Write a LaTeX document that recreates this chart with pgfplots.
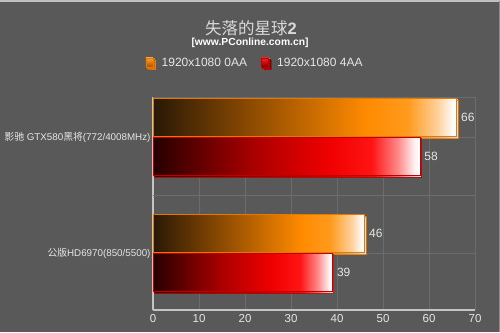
\documentclass[border=0pt]{standalone}
\usepackage{pgfplots}
\pgfplotsset{compat=1.18}
\usepackage{fontspec}
\setmainfont{Liberation Sans}
\newfontfamily\cjk{Noto Sans CJK SC}
\usetikzlibrary{shadows}

\definecolor{bg}{HTML}{595959}
\definecolor{gridc}{HTML}{6C6C6C}
\definecolor{axisc}{HTML}{C4C4C4}
\definecolor{txt}{HTML}{E6E6E6}

% bar fills: dark on the left, full colour, then white at the value end
\pgfdeclarehorizontalshading{orangebar}{100bp}{
  color(0bp)=({rgb,255:red,40;green,24;blue,6}); color(25bp)=({rgb,255:red,40;green,24;blue,6});
  color(46bp)=({rgb,255:red,170;green,90;blue,0});
  color(60bp)=({rgb,255:red,255;green,138;blue,0});
  color(67bp)=({rgb,255:red,255;green,155;blue,30});
  color(72bp)=({rgb,255:red,255;green,210;blue,160});
  color(74bp)=({rgb,255:red,255;green,245;blue,235});
  color(75bp)=(white); color(100bp)=(white)}
\pgfdeclarehorizontalshading{redbar}{100bp}{
  color(0bp)=({rgb,255:red,38;green,0;blue,0}); color(25bp)=({rgb,255:red,38;green,0;blue,0});
  color(44bp)=({rgb,255:red,170;green,0;blue,0});
  color(58bp)=({rgb,255:red,240;green,0;blue,0});
  color(66bp)=({rgb,255:red,255;green,20;blue,20});
  color(71bp)=({rgb,255:red,255;green,140;blue,140});
  color(74bp)=({rgb,255:red,255;green,242;blue,242});
  color(75bp)=(white); color(100bp)=(white)}
\pgfdeclareverticalshading{orangebox}{100bp}{
  color(0bp)=({rgb,255:red,150;green,70;blue,0}); color(25bp)=({rgb,255:red,170;green,80;blue,0});
  color(75bp)=({rgb,255:red,255;green,160;blue,40}); color(100bp)=({rgb,255:red,255;green,160;blue,40})}
\pgfdeclareverticalshading{redbox}{100bp}{
  color(0bp)=({rgb,255:red,110;green,0;blue,0}); color(25bp)=({rgb,255:red,130;green,0;blue,0});
  color(75bp)=({rgb,255:red,255;green,30;blue,30}); color(100bp)=({rgb,255:red,255;green,30;blue,30})}

% frame rates, 0 = reference HD6970, 1 = GTX580
\pgfplotstableread{
y  fps
0  46
1  66
}\noaa
\pgfplotstableread{
y  fps
0  39
1  58
}\fouraa

\pgfplotsset{
  orangestyle/.style={bar shift=0.168, shading=orangebar,
    draw={rgb,255:red,230;green,120;blue,0}, line width=0.6bp,
    drop shadow={shadow xshift=1.2bp, shadow yshift=-1.6bp, fill=black, opacity=0.85},
    legend image code/.code={
      \fill[black!85] (1.5bp,-5bp) rectangle (8.5bp,4bp);
      \shade[shading=orangebox] (0bp,-4bp) rectangle (7bp,5bp);}},
  redstyle/.style={bar shift=-0.165, shading=redbar,
    draw={rgb,255:red,190;green,0;blue,0}, line width=0.6bp,
    drop shadow={shadow xshift=1.2bp, shadow yshift=-1.6bp, fill=black, opacity=0.85},
    legend image code/.code={
      \fill[black!85] (1.5bp,-5bp) rectangle (8.5bp,4bp);
      \shade[shading=redbox] (0bp,-4bp) rectangle (7bp,5bp);}},
}

\begin{document}
\begin{tikzpicture}[x=1bp,y=1bp]
  \fill[bg] (0,0) rectangle (500,332);
  \path[use as bounding box] (0,0) rectangle (500,332);
  \draw[color=black!25,line width=1.2bp] (0,331) -- (500,331);
  \draw[color=black!45,line width=1bp] (499.5,0) -- (499.5,331);

  \node[text=black!15,font=\fontsize{16.5bp}{18bp}\selectfont,inner sep=0] at (251,303.5)
    {{\cjk 失落的星球}\textbf{2}};
  \node[text=white,font=\fontsize{10.3bp}{12bp}\selectfont\bfseries,inner sep=0] at (250,289.5)
    {[www.PConline.com.cn]};

  \begin{axis}[
    at={(153bp,22bp)}, anchor=south west,
    scale only axis, width=322bp, height=213bp,
    xbar, xmin=0, xmax=70, ymin=-0.49, ymax=1.345,
    xtick={0,10,...,70},
    ytick={0,1},
    yticklabels={%
      {\cjk 公版}HD6970(850/5500),%
      {\cjk 影驰} GTX580{\cjk 黑将}(772/4008MHz)},
    extra y ticks={0.5,1.345}, extra y tick labels={},
    extra y tick style={grid=major},
    xmajorgrids, ymajorgrids,
    grid style={color=gridc, line width=0.9bp},
    major tick length=0pt,
    axis lines*=left,
    axis line style={color=axisc, line width=1.4bp},
    /pgf/number format/assume math mode=true,
    tick label style={text=txt, font=\fontsize{11.5bp}{13bp}\selectfont},
    yticklabel style={font=\fontsize{9.8bp}{12bp}\selectfont, xshift=1bp},
    xticklabel style={yshift=-1bp},
    bar width=0.33,
    nodes near coords,
    nodes near coords style={text=txt, font=\fontsize{12bp}{14bp}\selectfont, anchor=west, xshift=1bp},
    legend columns=2,
    legend style={at={(0.317,1.16)}, anchor=center, draw=none, fill=none,
      text=txt, font=\fontsize{12bp}{14bp}\selectfont,
      /tikz/every odd column/.append style={column sep=5bp},
      /tikz/every even column/.append style={column sep=12bp}},
    clip=false,
  ]
    % one bar per plot, so each bar gets its own fill
    \addplot[orangestyle] table[x=fps, y=y, skip coords between index={0}{1}] {\noaa};
    \addlegendentry{1920x1080 0AA}
    \addplot[redstyle] table[x=fps, y=y, skip coords between index={0}{1}] {\fouraa};
    \addlegendentry{1920x1080 4AA}
    \addplot[orangestyle, forget plot] table[x=fps, y=y, skip coords between index={1}{2}] {\noaa};
    \addplot[redstyle, forget plot] table[x=fps, y=y, skip coords between index={1}{2}] {\fouraa};
  \end{axis}
\end{tikzpicture}
\end{document}
